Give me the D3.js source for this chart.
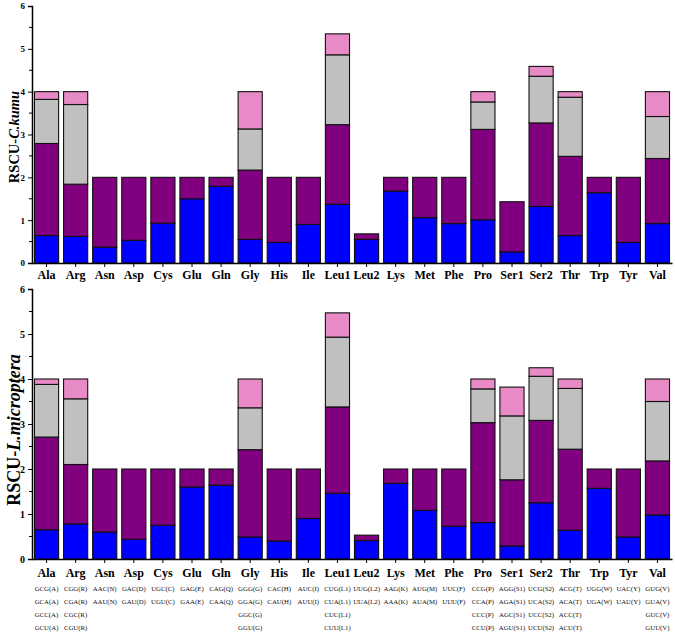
<!DOCTYPE html>
<html><head><meta charset="utf-8">
<script src="https://cdn.jsdelivr.net/npm/d3@7"></script>
<style>body{margin:0;background:#fff}svg{display:block}</style>
</head><body>
<svg id="c" width="675" height="635"></svg>
<script>
const categories = ["Ala","Arg","Asn","Asp","Cys","Glu","Gln","Gly","His","Ile","Leu1","Leu2","Lys","Met","Phe","Pro","Ser1","Ser2","Thr","Trp","Tyr","Val"];
const codons = [
 ["GCG(A)","GCA(A)","GCC(A)","GCU(A)"],["CGG(R)","CGA(R)","CGC(R)","CGU(R)"],["AAC(N)","AAU(N)"],["GAC(D)","GAU(D)"],
 ["UGC(C)","UGU(C)"],["GAG(E)","GAA(E)"],["CAG(Q)","CAA(Q)"],["GGG(G)","GGA(G)","GGC(G)","GGU(G)"],["CAC(H)","CAU(H)"],
 ["AUC(I)","AUU(I)"],["CUG(L1)","CUA(L1)","CUC(L1)","CUU(L1)"],["UUG(L2)","UUA(L2)"],["AAG(K)","AAA(K)"],["AUG(M)","AUA(M)"],
 ["UUC(F)","UUU(F)"],["CCG(P)","CCA(P)","CCC(P)","CCU(P)"],["AGG(S1)","AGA(S1)","AGC(S1)","AGU(S1)"],["UCG(S2)","UCA(S2)","UCC(S2)","UCU(S2)"],
 ["ACG(T)","ACA(T)","ACC(T)","ACU(T)"],["UGG(W)","UGA(W)"],["UAC(Y)","UAU(Y)"],["GUG(V)","GUA(V)","GUC(V)","GUU(V)"]
];
// C. kumu segment values (bottom to top)
const kumu1 = [0.64,0.62,0.37,0.53,0.93,1.50,1.79,0.55,0.48,0.90,1.37,0.55,1.68,1.06,0.92,1.01,0.26,1.32,0.64,1.64,0.48,0.92];
const kumu2 = [2.15,1.22,1.63,1.47,1.07,0.50,0.21,1.62,1.52,1.10,1.86,0.13,0.32,0.94,1.08,2.11,1.17,1.95,1.85,0.36,1.52,1.52];
const kumu3 = [1.03,1.86,0,0,0,0,0,0.96,0,0,1.63,0,0,0,0,0.64,0,1.09,1.38,0,0,0.98];
const kumu4 = [0.18,0.30,0,0,0,0,0,0.87,0,0,0.49,0,0,0,0,0.24,0,0.23,0.13,0,0,0.58];
// L. microptera segment values
const micro1 = [0.65,0.78,0.60,0.44,0.75,1.60,1.64,0.49,0.40,0.90,1.46,0.41,1.68,1.08,0.73,0.81,0.29,1.25,0.64,1.57,0.49,0.98];
const micro2 = [2.06,1.32,1.40,1.56,1.25,0.40,0.36,1.94,1.60,1.10,1.92,0.12,0.32,0.92,1.27,2.22,1.47,1.83,1.80,0.43,1.51,1.20];
const micro3 = [1.17,1.46,0,0,0,0,0,0.93,0,0,1.55,0,0,0,0,0.75,1.42,0.98,1.35,0,0,1.32];
const micro4 = [0.12,0.44,0,0,0,0,0,0.64,0,0,0.54,0,0,0,0,0.22,0.64,0.19,0.21,0,0,0.50];
const yTicks = [0,1,2,3,4,5,6];
const colors = ["#0000ff","#800080","#c0c0c0","#e88ac6"];

const svg = d3.select("#c");
const x = d3.scaleBand().domain(categories).range([32,672]).paddingInner(0.17).paddingOuter(0.085);
const serif = "Liberation Serif, Times New Roman, serif";

function panel(series, y0, y1, title, italicPart, titleSize, tickSize, catY, titleY) {
  const y = d3.scaleLinear().domain([0,6]).range([y0,y1]);
  const g = svg.append("g");
  const rows = categories.map((c,i)=>{const o={cat:c}; series.forEach((s,k)=>o["s"+k]=s[i]); return o;});
  const stack = d3.stack().keys(series.map((s,k)=>"s"+k))(rows);
  stack.forEach((layer,k)=>{
    g.append("g").selectAll("rect").data(layer.filter(d=>d[1]-d[0]>0)).join("rect")
      .attr("x",d=>x(d.data.cat)).attr("width",x.bandwidth())
      .attr("y",d=>y(d[1])).attr("height",d=>y(d[0])-y(d[1]))
      .attr("fill",colors[k]).attr("stroke","#111").attr("stroke-width",1.1);
  });
  // y axis
  const ya = g.append("g").attr("transform","translate(32,0)")
    .call(d3.axisLeft(y).tickValues(yTicks).tickFormat(d3.format("d")).tickSize(4).tickPadding(3));
  ya.attr("font-family",serif);
  ya.select(".domain").attr("stroke-width",1.5);
  ya.selectAll("text").attr("font-family",serif).attr("font-weight","bold").attr("font-size",tickSize);
  const minor = d3.range(0.5,6,1);
  g.append("g").attr("transform","translate(32,0)").selectAll("line").data(minor).join("line")
    .attr("x1",-3).attr("x2",0).attr("y1",d=>y(d)).attr("y2",d=>y(d)).attr("stroke","#000").attr("stroke-width",1);
  // x axis
  const xa = g.append("g").attr("transform",`translate(0,${y0})`)
    .call(d3.axisBottom(x).tickSize(4).tickSizeOuter(0).tickFormat(""));
  xa.select(".domain").attr("stroke-width",1.5);
  g.append("g").selectAll("text").data(categories).join("text")
    .attr("x",d=>x(d)+x.bandwidth()/2).attr("y",catY).attr("text-anchor","middle")
    .attr("dominant-baseline","central")
    .attr("font-family",serif).attr("font-weight","bold").attr("font-size",12).text(d=>d);
  // title
  const t = g.append("text").attr("transform",`translate(14,${titleY}) rotate(-90)`)
    .attr("text-anchor","middle").attr("dominant-baseline","central")
    .attr("font-family",serif).attr("font-weight","bold").attr("font-size",titleSize);
  t.append("tspan").text(title);
  t.append("tspan").attr("font-style","italic").text(italicPart);
  return y;
}

panel([kumu1,kumu2,kumu3,kumu4], 263, 6, "RSCU-", "C.kumu", 14.5, 9, 275, 137);
panel([micro1,micro2,micro3,micro4], 559, 289, "RSCU-", "L.microptera", 18, 10, 573, 430);

// codon table
const rowY = [588,601,614,627];
const cg = svg.append("g");
categories.forEach((c,i)=>{
  codons[i].forEach((cd,j)=>{
    cg.append("text").attr("x",x(c)+x.bandwidth()/2).attr("y",rowY[j])
      .attr("text-anchor","middle").attr("dominant-baseline","central")
      .attr("font-family",serif).attr("font-size",6.8).attr("fill","#111").text(cd);
  });
});
</script>
</body></html>
